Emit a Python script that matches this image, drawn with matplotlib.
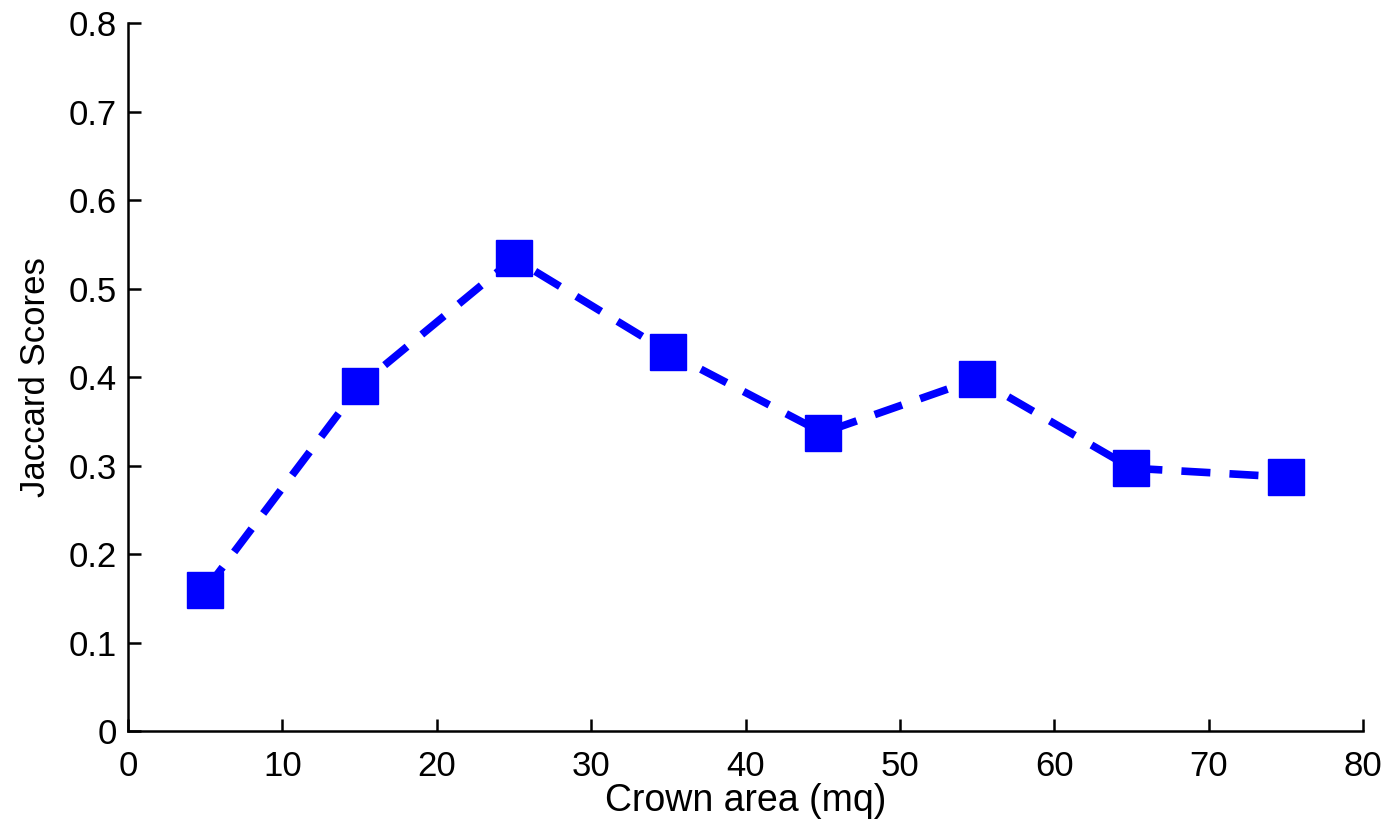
import matplotlib
matplotlib.use("Agg")
import matplotlib.pyplot as plt

# Datos
crown_area = [5, 15, 25, 35, 45, 55, 65, 75]
jaccard = [0.159, 0.39, 0.534, 0.428, 0.337, 0.398, 0.297, 0.287]
xticks = [0, 10, 20, 30, 40, 50, 60, 70, 80]
yticks = [0, 0.1, 0.2, 0.3, 0.4, 0.5, 0.6, 0.7, 0.8]

plt.rcParams['font.family'] = ['Liberation Sans', 'DejaVu Sans']

fig = plt.figure(figsize=(14, 8.31), dpi=100)
ax = fig.add_axes([0.0914, 0.1203, 0.8822, 0.852])

ax.plot(crown_area, jaccard, color='#0000ff', linestyle=(0, (3.8, 2.5)),
        linewidth=5.5, marker='s', markersize=26)

ax.set_xlim(0, 80)
ax.set_ylim(0, 0.8)
ax.set_xticks(xticks)
ax.set_yticks(yticks)
ax.set_xticklabels([str(t) for t in xticks])
ax.set_yticklabels(['0'] + ['%.1f' % t for t in yticks[1:]])

ax.spines['top'].set_visible(False)
ax.spines['right'].set_visible(False)
for s in ['left', 'bottom']:
    ax.spines[s].set_linewidth(1.8)
ax.tick_params(direction='in', length=9, width=1.8, labelsize=25, pad=8)
ax.tick_params(axis='x', pad=14)

ax.set_xlabel('Crown area (mq)', fontsize=27, labelpad=0)
ax.set_ylabel('Jaccard Scores', fontsize=25, labelpad=12)

fig.savefig('out.png', dpi=100)
